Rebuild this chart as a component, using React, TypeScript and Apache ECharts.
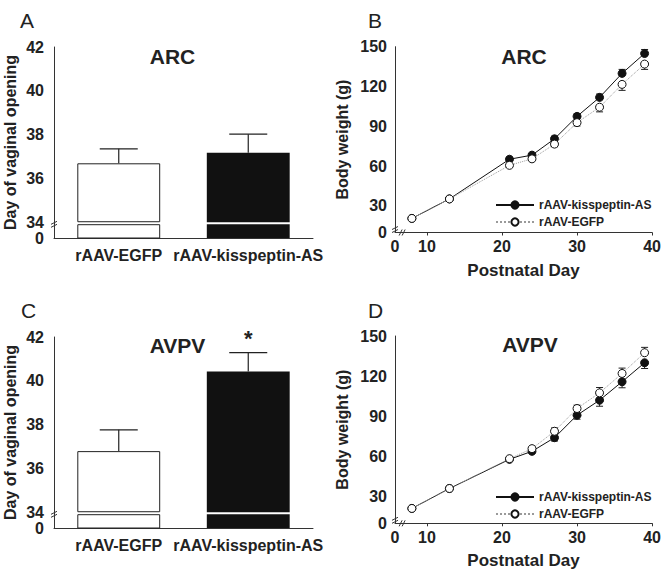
import React, { useEffect, useRef } from 'react';
import * as echarts from 'echarts';

// ---------- data ----------
const barCategories = ['rAAV-EGFP', 'rAAV-kisspeptin-AS'];
const arcBarMeans = [36.69, 37.17];
const arcBarErrors = [0.66, 0.85];
const avpvBarMeans = [36.79, 40.42];
const avpvBarErrors = [0.97, 0.87];
const avpvSignificance = ['', '*'];
const barTickValues = [34, 36, 38, 40, 42];

const postnatalDays = [8, 13, 21, 24, 27, 30, 33, 36, 39];
const arcKiss = [20.6, 35.3, 65.2, 68.3, 80.6, 97.5, 111.8, 129.9, 144.9];
const arcKissErr = [0.5, 1, 1.5, 1.5, 2, 2, 2.5, 3, 3];
const arcEgfp = [20.6, 35.3, 60.6, 65.5, 76.6, 92.8, 104.4, 121.6, 136.9];
const arcEgfpErr = [0.5, 1, 1.5, 1.5, 2, 2.5, 3.5, 4.5, 4];
const avpvKiss = [21.1, 36, 57.8, 63.8, 74, 90.8, 102, 115.8, 130];
const avpvKissErr = [0.5, 1, 1.5, 1.5, 2.5, 3, 4.5, 4.5, 4.3];
const avpvEgfp = [21.1, 36, 58.3, 65.8, 78.8, 95.8, 107.5, 122, 137.5];
const avpvEgfpErr = [0.5, 1, 1.5, 1.5, 2.5, 2.5, 4, 4, 4];
const weightTickValues = [30, 60, 90, 120, 150];
const dayTickValues = [10, 20, 30, 40];

const seriesNames = ['rAAV-kisspeptin-AS', 'rAAV-EGFP'];

// ---------- axis-break layout ----------
const BAR_AXIS_MIN = 33.28; // labelled "0" (broken axis)
const BAR_AXIS_MAX = 42;
const BAR_GAP = 0.09;
const WEIGHT_AXIS_MIN = 10; // labelled "0" (broken axis)
const WEIGHT_AXIS_MAX = 150;
const DAY_AXIS_MIN = 5.75; // labelled "0" (broken axis)
const DAY_AXIS_MAX = 40;

const FONT = '"Liberation Sans", Arial, Helvetica, sans-serif';
const INK = '#222';
const AXIS = '#333';

const grids = [
  { left: 54, top: 47, width: 259, height: 191 },
  { left: 395, top: 46.7, width: 260, height: 185.8 },
  { left: 54, top: 337, width: 259, height: 191 },
  { left: 395, top: 336, width: 260, height: 187.3 },
];

const labelStyle = { fontFamily: FONT, fontWeight: 'bold', fontSize: 16, color: INK };

function barXAxis(gi: number) {
  return {
    type: 'category',
    gridIndex: gi,
    data: barCategories,
    axisLine: { lineStyle: { color: AXIS, width: 1 } },
    axisTick: { alignWithLabel: true, length: 4, lineStyle: { color: AXIS } },
    axisLabel: { ...labelStyle, margin: 9, interval: 0, hideOverlap: false },
  };
}

function barYAxis(gi: number) {
  return {
    type: 'value',
    gridIndex: gi,
    min: BAR_AXIS_MIN,
    max: BAR_AXIS_MAX,
    name: 'Day of vaginal opening',
    nameLocation: 'middle',
    nameGap: 36,
    nameTextStyle: { ...labelStyle, fontSize: 16 },
    splitLine: { show: false },
    axisLine: { show: true, lineStyle: { color: AXIS, width: 1 } },
    axisTick: { show: false },
    axisLabel: {
      ...labelStyle,
      margin: 10,
      showMinLabel: true,
      showMaxLabel: true,
      hideOverlap: false,
      customValues: barTickValues,
      formatter: (v: number) => String(Math.round(v)),
    },
  };
}

function weightXAxis(gi: number) {
  return {
    type: 'value',
    gridIndex: gi,
    min: DAY_AXIS_MIN,
    max: DAY_AXIS_MAX,
    name: 'Postnatal Day',
    nameLocation: 'middle',
    nameGap: 29,
    nameTextStyle: { ...labelStyle, fontSize: 17 },
    splitLine: { show: false },
    axisLine: { show: true, lineStyle: { color: AXIS, width: 1 } },
    axisTick: { show: true, length: 3, customValues: dayTickValues, lineStyle: { color: AXIS } },
    axisLabel: {
      ...labelStyle,
      margin: 6,
      showMinLabel: true,
      hideOverlap: false,
      customValues: [DAY_AXIS_MIN, ...dayTickValues],
      formatter: (v: number) => (v < 9 ? '0' : String(Math.round(v))),
    },
  };
}

function weightYAxis(gi: number) {
  return {
    type: 'value',
    gridIndex: gi,
    min: WEIGHT_AXIS_MIN,
    max: WEIGHT_AXIS_MAX,
    name: 'Body weight (g)',
    nameLocation: 'middle',
    nameGap: 45,
    nameTextStyle: { ...labelStyle, fontSize: 16 },
    splitLine: { show: false },
    axisLine: { show: true, lineStyle: { color: AXIS, width: 1 } },
    axisTick: { show: false },
    axisLabel: {
      ...labelStyle,
      margin: 8,
      showMinLabel: true,
      hideOverlap: false,
      customValues: [WEIGHT_AXIS_MIN, ...weightTickValues],
      formatter: (v: number) => (v < 20 ? '0' : String(Math.round(v))),
    },
  };
}

const barStyles = [
  { color: '#fff', borderColor: INK, borderWidth: 1 },
  { color: '#111', borderColor: '#111', borderWidth: 0 },
];

function barSeries(gi: number, means: number[], errs: number[], sig: string[]) {
  const stack = 'bars' + gi;
  const common = {
    type: 'bar',
    xAxisIndex: gi,
    yAxisIndex: gi,
    stack,
    barWidth: '64%',
    clip: true,
    silent: true,
  };
  return [
    {
      ...common,
      name: 'base' + gi,
      data: means.map((_, i) => ({ value: 34 - BAR_GAP, itemStyle: barStyles[i] })),
    },
    {
      ...common,
      name: 'gap' + gi,
      data: means.map(() => ({ value: BAR_GAP, itemStyle: { color: 'rgba(0,0,0,0)', borderWidth: 0 } })),
    },
    {
      ...common,
      name: 'top' + gi,
      data: means.map((m, i) => ({ value: m - 34, itemStyle: barStyles[i] })),
    },
    {
      type: 'custom',
      name: 'err' + gi,
      xAxisIndex: gi,
      yAxisIndex: gi,
      silent: true,
      z: 3,
      data: means.map((m, i) => [i, m, errs[i]]),
      renderItem: (params: any, api: any) => {
        const x = api.value(0);
        const m = api.value(1);
        const e = api.value(2);
        const p0 = api.coord([x, m]);
        const p1 = api.coord([x, m + e]);
        const children: any[] = [
          { type: 'line', shape: { x1: p0[0], y1: p0[1], x2: p1[0], y2: p1[1] }, style: { stroke: INK, lineWidth: 1.2 } },
          { type: 'line', shape: { x1: p1[0] - 19, y1: p1[1], x2: p1[0] + 19, y2: p1[1] }, style: { stroke: INK, lineWidth: 1.2 } },
        ];
        const s = sig[params.dataIndex];
        if (s) {
          children.push({
            type: 'text',
            x: p1[0],
            y: p1[1] - 3,
            style: { text: s, fontFamily: FONT, fontWeight: 'bold', fontSize: 22, fill: INK, align: 'center', verticalAlign: 'bottom' },
          });
        }
        return { type: 'group', children };
      },
    },
  ];
}

function lineErrSeries(gi: number, values: number[], errs: number[], dir: number, name: string) {
  return {
    type: 'custom',
    name,
    xAxisIndex: gi,
    yAxisIndex: gi,
    silent: true,
    z: 1,
    data: postnatalDays.map((d, i) => [d, values[i], errs[i]]),
    renderItem: (params: any, api: any) => {
      const x = api.value(0);
      const y = api.value(1);
      const e = api.value(2);
      const p0 = api.coord([x, y]);
      const p1 = api.coord([x, y + dir * e]);
      return {
        type: 'group',
        children: [
          { type: 'line', shape: { x1: p0[0], y1: p0[1], x2: p1[0], y2: p1[1] }, style: { stroke: INK, lineWidth: 1 } },
          { type: 'line', shape: { x1: p1[0] - 3.5, y1: p1[1], x2: p1[0] + 3.5, y2: p1[1] }, style: { stroke: INK, lineWidth: 1 } },
        ],
      };
    },
  };
}

function lineSeries(gi: number, kiss: number[], egfp: number[]) {
  return [
    {
      type: 'line',
      name: seriesNames[0],
      xAxisIndex: gi,
      yAxisIndex: gi,
      z: 3,
      symbol: 'circle',
      symbolSize: 8,
      data: postnatalDays.map((d, i) => [d, kiss[i]]),
      lineStyle: { color: '#111', width: 1 },
      itemStyle: { color: '#111', borderColor: '#111', borderWidth: 1 },
    },
    {
      type: 'line',
      name: seriesNames[1],
      xAxisIndex: gi,
      yAxisIndex: gi,
      z: 4,
      symbol: 'circle',
      symbolSize: 8,
      data: postnatalDays.map((d, i) => [d, egfp[i]]),
      lineStyle: { color: '#9a9a9a', width: 1, type: 'dotted' },
      itemStyle: { color: '#fff', borderColor: '#111', borderWidth: 1 },
    },
  ];
}

function legendAt(top: number) {
  return {
    data: seriesNames,
    orient: 'vertical',
    left: 490,
    top,
    itemWidth: 38,
    itemHeight: 9,
    itemGap: 5,
    selectedMode: false,
    textStyle: { fontFamily: FONT, fontWeight: 'bold', fontSize: 12, color: INK },
  };
}

function textEl(text: string, x: number, y: number, size: number, bold: boolean, align = 'center', vAlign = 'middle') {
  return {
    type: 'text',
    x,
    y,
    silent: true,
    style: { text, fontFamily: FONT, fontSize: size, fontWeight: bold ? 'bold' : 'normal', fill: INK, align, verticalAlign: vAlign },
  };
}

export default function App() {
  const ref = useRef<HTMLDivElement>(null);
  useEffect(() => {
    if (!ref.current) return;
    const chart = echarts.init(ref.current, null, { renderer: 'svg' });
    const option: any = {
      animation: false,
      backgroundColor: '#fff',
      grid: grids.map((g) => ({ ...g, containLabel: false })),
      xAxis: [barXAxis(0), weightXAxis(1), barXAxis(2), weightXAxis(3)],
      yAxis: [barYAxis(0), weightYAxis(1), barYAxis(2), weightYAxis(3)],
      legend: [legendAt(194), legendAt(486)],
      series: [
        ...barSeries(0, arcBarMeans, arcBarErrors, ['', '']),
        ...barSeries(2, avpvBarMeans, avpvBarErrors, avpvSignificance),
        lineErrSeries(1, arcKiss, arcKissErr, 1, 'errK1'),
        lineErrSeries(1, arcEgfp, arcEgfpErr, -1, 'errE1'),
        ...lineSeries(1, arcKiss, arcEgfp),
        lineErrSeries(3, avpvKiss, avpvKissErr, -1, 'errK3'),
        lineErrSeries(3, avpvEgfp, avpvEgfpErr, 1, 'errE3'),
        ...lineSeries(3, avpvKiss, avpvEgfp),
      ],
    };
    chart.setOption(option);

    // axis-break marks placed through the axes' scales
    const els: any[] = [];
    const slashStyle = { stroke: AXIS, lineWidth: 1 };
    const yBreak = (gi: number, value: number) => {
      const y = chart.convertToPixel({ yAxisIndex: gi } as any, value) as number;
      const x = grids[gi].left;
      els.push({ type: 'line', silent: true, shape: { x1: x - 3, y1: y + 1, x2: x + 3, y2: y - 2 }, style: slashStyle });
      els.push({ type: 'line', silent: true, shape: { x1: x - 3, y1: y + 4, x2: x + 3, y2: y + 1 }, style: slashStyle });
    };
    const xBreak = (gi: number, value: number) => {
      const x = chart.convertToPixel({ xAxisIndex: gi } as any, value) as number;
      const y = grids[gi].top + grids[gi].height;
      els.push({ type: 'line', silent: true, shape: { x1: x - 3, y1: y + 3, x2: x, y2: y - 3 }, style: slashStyle });
      els.push({ type: 'line', silent: true, shape: { x1: x, y1: y + 3, x2: x + 3, y2: y - 3 }, style: slashStyle });
    };
    yBreak(0, 33.95);
    yBreak(2, 33.95);
    yBreak(1, 13);
    yBreak(3, 13);
    xBreak(1, 6.7);
    xBreak(3, 6.7);

    // "0" labels at the broken bar axes' origin, placed through the axis scale
    [0, 2].forEach((gi) => {
      const y = chart.convertToPixel({ yAxisIndex: gi } as any, BAR_AXIS_MIN) as number;
      els.push(textEl('0', grids[gi].left - 10, y, 16, true, 'right', 'middle'));
    });

    els.push(textEl('A', 20, 10, 21, false, 'left', 'top'));
    els.push(textEl('B', 368, 10, 21, false, 'left', 'top'));
    els.push(textEl('C', 21, 300, 21, false, 'left', 'top'));
    els.push(textEl('D', 368, 300, 21, false, 'left', 'top'));
    els.push(textEl('ARC', 172.5, 56, 21, true));
    els.push(textEl('ARC', 524, 56, 21, true));
    els.push(textEl('AVPV', 177.5, 345, 21, true));
    els.push(textEl('AVPV', 530, 344, 21, true));

    chart.setOption({ graphic: { elements: els } });
    return () => chart.dispose();
  }, []);
  return <div ref={ref} style={{ position: 'absolute', left: 0, top: 0, width: 664, height: 582 }} />;
}
